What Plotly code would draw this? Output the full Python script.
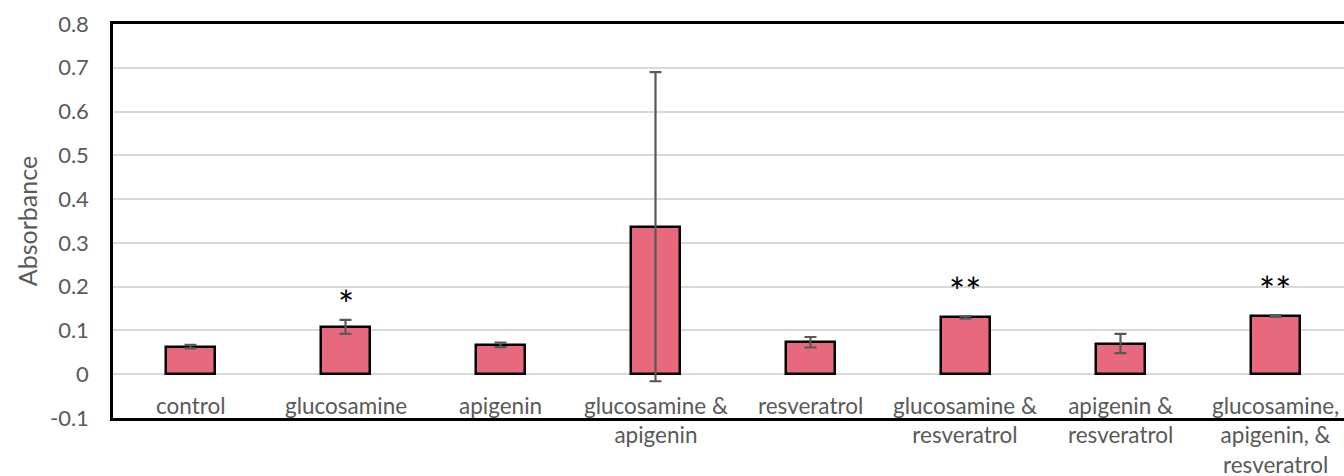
import plotly.graph_objects as go

# Treatment groups, mean absorbance and error (+/-)
categories = [
    "control",
    "glucosamine",
    "apigenin",
    "glucosamine &<br>apigenin",
    "resveratrol",
    "glucosamine &<br>resveratrol",
    "apigenin &<br>resveratrol",
    "glucosamine,<br>apigenin, &<br>resveratrol",
]
absorbance = [0.063, 0.108, 0.067, 0.337, 0.073, 0.130, 0.070, 0.133]
error = [0.004, 0.016, 0.005, 0.353, 0.012, 0.003, 0.022, 0.002]
significance = ["", "*", "", "", "", "**", "", "**"]

y_ticks = [-0.1, 0, 0.1, 0.2, 0.3, 0.4, 0.5, 0.6, 0.7, 0.8]
y_tick_text = ["-0.1", "0", "0.1", "0.2", "0.3", "0.4", "0.5", "0.6", "0.7", "0.8"]

FONT = "Lato"
GREY = "#595959"

x = list(range(len(categories)))

fig = go.Figure()
fig.add_trace(go.Bar(
    x=x,
    y=absorbance,
    width=0.32,
    marker=dict(color="#E8697D", line=dict(color="black", width=2.5)),
    error_y=dict(type="data", array=error, visible=True,
                 color=GREY, thickness=2.2, width=6),
    showlegend=False,
))

annotations = []
# category labels sit inside the plot, below the zero line
for i, c in enumerate(categories):
    annotations.append(dict(
        x=i, y=-0.036, xref="x", yref="y", text=c, showarrow=False,
        yanchor="top", xanchor="center", align="center",
        font=dict(family=FONT, size=22.5, color=GREY),
    ))
# significance markers above the error bars
for i, s in enumerate(significance):
    if s:
        annotations.append(dict(
            x=i, y=absorbance[i] + error[i], xref="x", yref="y", text=s,
            showarrow=False, yanchor="bottom", xanchor="center",
            yshift=-9 if s == "*" else 0,
            font=dict(family=FONT, size=38, color="black"),
        ))

fig.update_layout(
    width=1344, height=476,
    margin=dict(l=113, r=0, t=24, b=58),
    plot_bgcolor="white", paper_bgcolor="white",
    bargap=0,
    annotations=annotations,
    xaxis=dict(
        range=[-0.5, 7.442], showticklabels=False, showgrid=False,
        zeroline=False, showline=True, linecolor="black", linewidth=2.5,
        mirror=True, ticks="",
    ),
    yaxis=dict(
        range=[-0.1, 0.8], tickvals=y_ticks, ticktext=y_tick_text,
        showgrid=True, gridcolor="#D9D9D9", gridwidth=2,
        zeroline=False, showline=True, linecolor="black", linewidth=2.5,
        ticks="", ticklabelstandoff=17,
        tickfont=dict(family=FONT, size=22, color=GREY),
        title=dict(text="Absorbance", font=dict(family=FONT, size=25, color=GREY),
                   standoff=6),
    ),
)

fig.write_html("out.html")
